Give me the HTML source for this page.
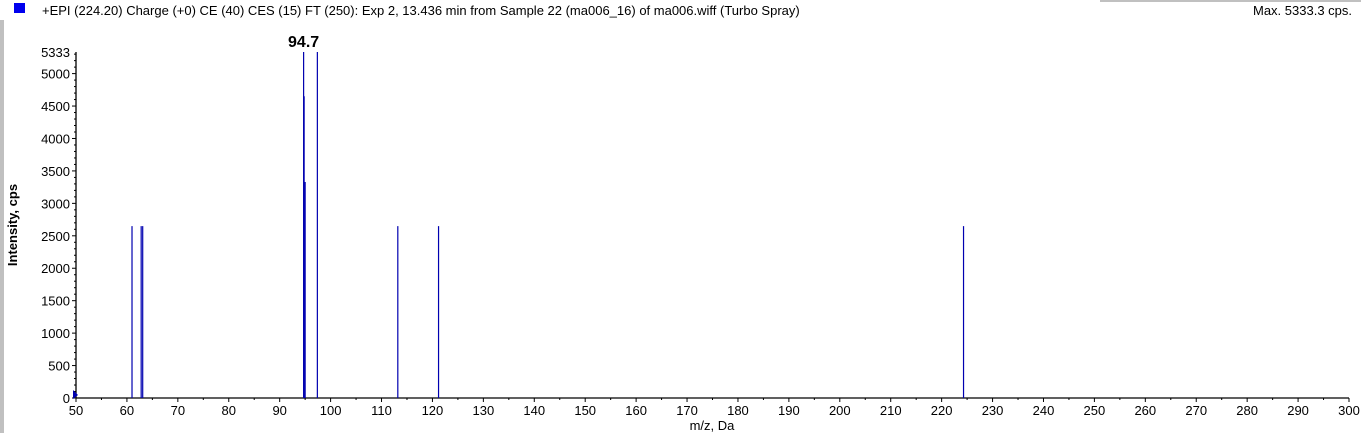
<!DOCTYPE html>
<html><head><meta charset="utf-8"><style>
body{margin:0;width:1361px;height:433px;background:#fff;overflow:hidden;font-family:"Liberation Sans",Arial,sans-serif}
</style></head><body>
<svg width="1361" height="433" xmlns="http://www.w3.org/2000/svg">
<rect x="0" y="20" width="4" height="413" fill="#c0c0c0"/>
<rect x="1100" y="0" width="261" height="2" fill="#c0c0c0"/>
<rect x="14" y="3" width="11" height="10" fill="#0000ee"/>
<text x="42" y="15" font-size="13" fill="#000">+EPI (224.20) Charge (+0) CE (40) CES (15) FT (250): Exp 2, 13.436 min from Sample 22 (ma006_16) of ma006.wiff (Turbo Spray)</text>
<text x="1352" y="15" font-size="13" fill="#000" text-anchor="end">Max. 5333.3 cps.</text>
<text transform="translate(17,225) rotate(-90)" font-size="13" font-weight="bold" text-anchor="middle">Intensity, cps</text>
<text x="712" y="430" font-size="13" text-anchor="middle">m/z, Da</text>
<g id="axes"></g>
<g id="marks"></g>
</svg>
<script>
const peakMz=[61.0,62.8,63.1,94.7,94.8,95.0,97.4,113.2,121.2,224.3];
const peakIntensity=[2650,2650,2650,5333,4650,3330,5333,2650,2650,2650];
const xTicks=[50,60,70,80,90,100,110,120,130,140,150,160,170,180,190,200,210,220,230,240,250,260,270,280,290,300];
const yTicks=[0,500,1000,1500,2000,2500,3000,3500,4000,4500,5000,5333];
const labeledPeak="94.7";
const X0=76,X1=1349,Y0=398,Y1=52;
const xs=v=>X0+(v-50)/(250)*(X1-X0);
const ys=v=>Y0-v/5333*(Y0-Y1);
const NS="http://www.w3.org/2000/svg";
const ax=document.getElementById('axes'),mk=document.getElementById('marks');
function el(t,a,p){const e=document.createElementNS(NS,t);for(const k in a)e.setAttribute(k,a[k]);p.appendChild(e);return e;}
let l=el('line',{x1:X0,y1:Y0,x2:X1,y2:Y0,stroke:'#000','stroke-width':1.3},ax);


l=el('line',{x1:X0,y1:Y0,x2:X0,y2:Y1,stroke:'#000','stroke-width':1.3},ax);


for(let v=50;v<=300;v+=5){el('line',{x1:xs(v),y1:Y0,x2:xs(v),y2:Y0+(v%10==0?4:2),stroke:'#000'},ax);}
xTicks.forEach(v=>{const t=el('text',{x:xs(v),y:Y0+17,'font-size':13,'text-anchor':'middle'},ax);t.textContent=v;

});
for(let v=0;v<=5300;v+=100){el('line',{x1:X0,y1:ys(v),x2:X0-(v%500==0?4:2),y2:ys(v),stroke:'#000'},ax);}
yTicks.forEach(v=>{const t=el('text',{x:X0-6,y:ys(v)+5,'font-size':13,'text-anchor':'end'},ax);t.textContent=v;

});
peakMz.forEach((m,i)=>{const b=el('line',{x1:xs(m),y1:Y0,x2:xs(m),y2:ys(peakIntensity[i]),stroke:'#0000b0','stroke-width':1.2},mk);

});
const lb=el('text',{x:xs(94.7),y:ys(5333)-5,'font-size':16,'font-weight':'bold','text-anchor':'middle'},mk);lb.textContent=labeledPeak;


const tri=el('polygon',{points:`${X0-3},${Y0-8} ${X0+2},${Y0-3} ${X0-3},${Y0+1}`,fill:'#0000b0'},ax);


</script>
</body></html>
